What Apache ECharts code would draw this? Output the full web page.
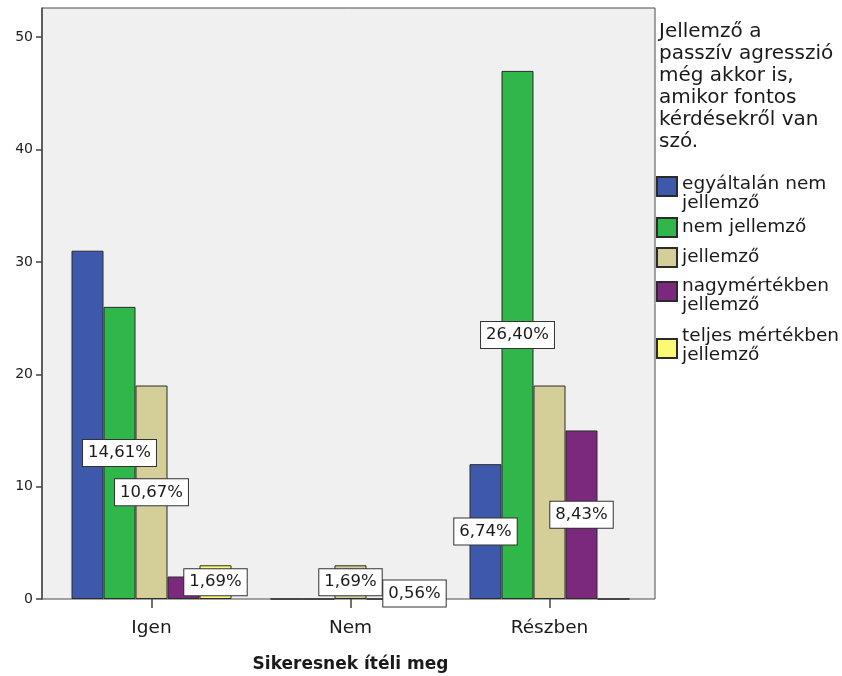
<!DOCTYPE html>
<html>
<head>
<meta charset="utf-8">
<title>Sikeresnek ítéli meg</title>
<script src="https://cdn.jsdelivr.net/npm/echarts@6/dist/echarts.min.js"></script>
<style>
  html, body { margin: 0; padding: 0; background: #ffffff; }
  #chart { width: 842px; height: 676px; }
</style>
</head>
<body>
<div id="chart"></div>
<script>
// Categories on the x axis
var categories = ['Igen', 'Nem', 'Részben'];

// Answer groups (legend entries)
var seriesNames = [
  'egyáltalán nem jellemző',
  'nem jellemző',
  'jellemző',
  'nagymértékben jellemző',
  'teljes mértékben jellemző'
];

// Counts per answer group, in category order
var notAtAll   = [31, 0, 12];
var notTypical = [26, 0, 47];
var typical    = [19, 3, 19];
var largely    = [2, 0, 15];
var fully      = [3, 1, 0];

// Which bars carry a percentage label
var labelShown = [
  [false, false, true],
  [true,  false, true],
  [true,  true,  false],
  [false, false, true],
  [true,  true,  false]
];

var yTicks = [0, 10, 20, 30, 40, 50];

var seriesValues = [notAtAll, notTypical, typical, largely, fully];
var colors = ['#3e58ab', '#2fb749', '#d4cf98', '#7b297d', '#fcfa74'];

var total = 0;
seriesValues.forEach(function (arr) { arr.forEach(function (v) { total += v; }); });

var FONT = 'DejaVu Sans';
var yMax = 52.6;

function pct(v) {
  return (v / total * 100).toFixed(2).replace('.', ',') + '%';
}

var series = seriesValues.map(function (vals, si) {
  return {
    name: seriesNames[si],
    type: 'bar',
    xAxisIndex: 1,
    yAxisIndex: 1,
    barWidth: 32,
    barGap: '0%',
    itemStyle: { color: colors[si], borderColor: '#2b2b2b', borderWidth: 1 },
    emphasis: { disabled: true },
    data: vals.map(function (v, ci) {
      return {
        value: v,
        label: {
          show: labelShown[si][ci],
          position: 'inside',
          formatter: function () { return pct(v); },
          color: '#1a1a1a',
          fontFamily: FONT,
          fontSize: 16.5,
          backgroundColor: '#ffffff',
          borderColor: '#333333',
          borderWidth: 1,
          padding: [5, 5, 4, 5]
        }
      };
    })
  };
});

// Legend entries: wrapped text, and a swatch placed within the entry's height
var legendLines = [
  ['egyáltalán nem', 'jellemző'],
  ['nem jellemző'],
  ['jellemző'],
  ['nagymértékben', 'jellemző'],
  ['teljes mértékben', 'jellemző']
];
var legendTops = [174, 217, 247, 276, 326];
var swatchOffsets = [2, 0, 0, 5, 12];
var LINE = 19;

function swatchIcon(lines, dy) {
  if (lines === 1) return 'rect';
  var h = lines * LINE;
  return 'path://M0,0M0,' + dy + 'L20,' + dy + 'L20,' + (dy + 19) + 'L0,' + (dy + 19) + 'ZM20,' + h;
}

var legends = seriesNames.map(function (name, i) {
  var n = legendLines[i].length;
  return {
    data: [{ name: name, icon: swatchIcon(n, swatchOffsets[i]) }],
    left: 656,
    top: legendTops[i],
    orient: 'vertical',
    itemWidth: 20,
    itemHeight: n * LINE,
    symbolKeepAspect: false,
    itemGap: 0,
    padding: 0,
    selectedMode: false,
    formatter: function () { return legendLines[i].join('\n'); },
    textStyle: {
      fontFamily: FONT,
      fontSize: 18.5,
      lineHeight: LINE,
      color: '#1a1a1a'
    }
  };
});

var chart = echarts.init(document.getElementById('chart'), null, { renderer: 'canvas' });

chart.setOption({
  animation: false,
  backgroundColor: '#ffffff',
  title: {
    text: 'Jellemző a\npasszív agresszió\nmég akkor is,\namikor fontos\nkérdésekről van\nszó.',
    left: 659,
    top: 21,
    padding: 0,
    textStyle: {
      fontFamily: FONT,
      fontSize: 20,
      fontWeight: 'normal',
      lineHeight: 22,
      color: '#1a1a1a'
    }
  },
  legend: legends,
  grid: [
    {
      left: 42, top: 8, width: 613, height: 591,
      outerBoundsMode: 'none',
      show: true, backgroundColor: '#f0f0f0', borderColor: '#4a4a4a', borderWidth: 1
    },
    { left: 52, top: 8, width: 597, height: 591, outerBoundsMode: 'none' }
  ],
  xAxis: [
    { type: 'value', gridIndex: 0, show: false, min: 0, max: 1 },
    {
      type: 'category',
      gridIndex: 1,
      data: categories,
      axisLine: { show: false },
      axisTick: { show: true, alignWithLabel: true, length: 9, lineStyle: { color: '#444444', width: 1.5 } },
      axisLabel: { fontFamily: FONT, fontSize: 18.5, color: '#1a1a1a', margin: 20 },
      name: 'Sikeresnek ítéli meg',
      nameLocation: 'middle',
      nameGap: 57,
      nameTextStyle: { fontFamily: FONT, fontSize: 17, fontWeight: 'bold', color: '#1a1a1a' }
    }
  ],
  yAxis: [
    {
      type: 'value',
      gridIndex: 0,
      min: 0,
      max: yMax,
      interval: 10,
      axisLine: { show: true, lineStyle: { color: '#4a4a4a', width: 1.5 } },
      axisTick: { show: true, length: 6, lineStyle: { color: '#444444', width: 1.5 } },
      splitLine: { show: false },
      axisLabel: {
        fontFamily: FONT,
        fontSize: 14,
        color: '#222222',
        margin: 9,
        showMaxLabel: false,
        formatter: function (v) { return yTicks.indexOf(v) >= 0 ? String(v) : ''; }
      }
    },
    { type: 'value', gridIndex: 1, min: 0, max: yMax, show: false }
  ],
  series: series
});
</script>
</body>
</html>
